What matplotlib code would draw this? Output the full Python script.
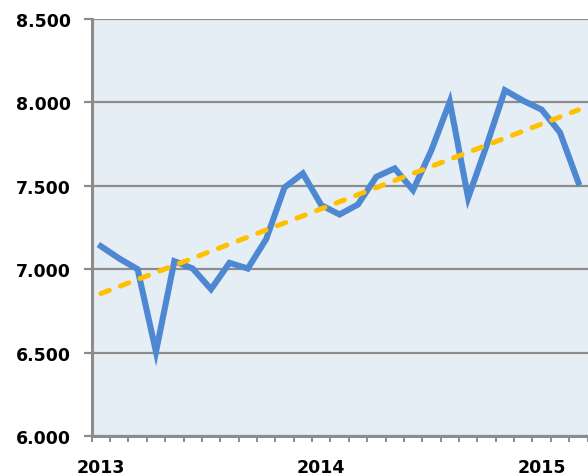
import numpy as np
import matplotlib.pyplot as plt
from matplotlib.ticker import FuncFormatter, FixedLocator

# monthly values, Jan 2013 - Mar 2015
values_2013 = [7138, 7064, 7000, 6505, 7048, 7004, 6880, 7038, 7004, 7180, 7490, 7574]
values_2014 = [7384, 7328, 7388, 7554, 7604, 7474, 7713, 8004, 7428, 7740, 8073, 8010]
values_2015 = [7957, 7820, 7520]
year_labels = ['2013', '2014', '2015']

values = np.array(values_2013 + values_2014 + values_2015, dtype=float)
x = np.arange(len(values))

# linear trend line (as in the spreadsheet)
slope, intercept = np.polyfit(x, values, 1)
trend = slope * x + intercept

fig = plt.figure(figsize=(5.88, 4.77), dpi=100)
ax = fig.add_axes([91.7 / 588, 1 - 437 / 477, (587.5 - 91.7) / 588, (437 - 20) / 477])
ax.set_facecolor('#E6EEF5')

grid_col = '#8C8C8C'
ax.set_ylim(6000, 8500)
ax.set_xlim(-0.5, len(values) - 0.5)
ax.set_yticks(np.arange(6000, 8501, 500))
ax.yaxis.grid(True, color=grid_col, linewidth=1.6, zorder=1)
ax.set_axisbelow(True)

ax.plot(x, values, color='#4F88D2', linewidth=4.4, solid_joinstyle='miter', zorder=3)
ax.plot(x, trend, color='#FFC000', linewidth=3.6, linestyle=(0, (1.8, 2.4)),
        dash_capstyle='round', zorder=4)

for s in ['top', 'right']:
    ax.spines[s].set_visible(False)
for s in ['left', 'bottom']:
    ax.spines[s].set_color(grid_col)
    ax.spines[s].set_linewidth(2.2)

fmt = FuncFormatter(lambda v, p: f'{int(v):,}'.replace(',', '.'))
ax.yaxis.set_major_formatter(fmt)
ax.tick_params(axis='y', direction='out', length=6, width=1.6, color=grid_col, pad=9,
               labelsize=12.5)

# year labels centred on January, tick marks between months
ax.xaxis.set_major_locator(FixedLocator([0, 12, 24]))
ax.set_xticklabels(year_labels)
ax.xaxis.set_minor_locator(FixedLocator(np.arange(-0.5, len(values), 1.0)))
ax.tick_params(axis='x', which='major', length=0, pad=15.5, labelsize=12.5)
ax.tick_params(axis='x', which='minor', direction='out', length=4, width=1.4, color=grid_col)

for lab in ax.get_xticklabels() + ax.get_yticklabels():
    lab.set_fontweight('bold')
    lab.set_family('DejaVu Sans')

fig.savefig('out.png', dpi=100)
